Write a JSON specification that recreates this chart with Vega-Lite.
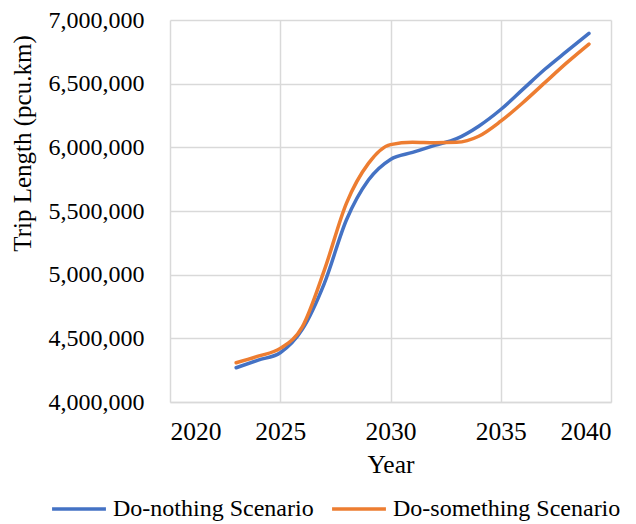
{
  "$schema": "https://vega.github.io/schema/vega-lite/v6.json",
  "width": 441,
  "height": 382,
  "autosize": "none",
  "padding": {"left": 170, "top": 20, "right": 25, "bottom": 122},
  "background": "white",
  "config": {
    "font": "Liberation Serif",
    "view": {"stroke": null}
  },
  "data": {
    "values": [
      {"Year": 2023, "Scenario": "Do-nothing Scenario", "Trip": 4269000},
      {"Year": 2024, "Scenario": "Do-nothing Scenario", "Trip": 4329000},
      {"Year": 2025, "Scenario": "Do-nothing Scenario", "Trip": 4387000},
      {"Year": 2026, "Scenario": "Do-nothing Scenario", "Trip": 4570000},
      {"Year": 2027, "Scenario": "Do-nothing Scenario", "Trip": 4932000},
      {"Year": 2028, "Scenario": "Do-nothing Scenario", "Trip": 5429000},
      {"Year": 2029, "Scenario": "Do-nothing Scenario", "Trip": 5743000},
      {"Year": 2030, "Scenario": "Do-nothing Scenario", "Trip": 5905000},
      {"Year": 2031, "Scenario": "Do-nothing Scenario", "Trip": 5960000},
      {"Year": 2032, "Scenario": "Do-nothing Scenario", "Trip": 6015000},
      {"Year": 2033, "Scenario": "Do-nothing Scenario", "Trip": 6068000},
      {"Year": 2034, "Scenario": "Do-nothing Scenario", "Trip": 6166000},
      {"Year": 2035, "Scenario": "Do-nothing Scenario", "Trip": 6297000},
      {"Year": 2036, "Scenario": "Do-nothing Scenario", "Trip": 6455000},
      {"Year": 2037, "Scenario": "Do-nothing Scenario", "Trip": 6613000},
      {"Year": 2038, "Scenario": "Do-nothing Scenario", "Trip": 6755000},
      {"Year": 2039, "Scenario": "Do-nothing Scenario", "Trip": 6895000},
      {"Year": 2023, "Scenario": "Do-something Scenario", "Trip": 4308000},
      {"Year": 2024, "Scenario": "Do-something Scenario", "Trip": 4360000},
      {"Year": 2025, "Scenario": "Do-something Scenario", "Trip": 4421000},
      {"Year": 2026, "Scenario": "Do-something Scenario", "Trip": 4590000},
      {"Year": 2027, "Scenario": "Do-something Scenario", "Trip": 5036000},
      {"Year": 2028, "Scenario": "Do-something Scenario", "Trip": 5560000},
      {"Year": 2029, "Scenario": "Do-something Scenario", "Trip": 5874000},
      {"Year": 2030, "Scenario": "Do-something Scenario", "Trip": 6021000},
      {"Year": 2031, "Scenario": "Do-something Scenario", "Trip": 6040000},
      {"Year": 2032, "Scenario": "Do-something Scenario", "Trip": 6036000},
      {"Year": 2033, "Scenario": "Do-something Scenario", "Trip": 6039000},
      {"Year": 2034, "Scenario": "Do-something Scenario", "Trip": 6087000},
      {"Year": 2035, "Scenario": "Do-something Scenario", "Trip": 6205000},
      {"Year": 2036, "Scenario": "Do-something Scenario", "Trip": 6350000},
      {"Year": 2037, "Scenario": "Do-something Scenario", "Trip": 6508000},
      {"Year": 2038, "Scenario": "Do-something Scenario", "Trip": 6665000},
      {"Year": 2039, "Scenario": "Do-something Scenario", "Trip": 6811000}
    ]
  },
  "mark": {"type": "line", "interpolate": "monotone", "strokeWidth": 3.5, "strokeCap": "round"},
  "encoding": {
    "x": {
      "field": "Year",
      "type": "quantitative",
      "scale": {"domain": [2020, 2040], "nice": false, "zero": false},
      "axis": {
        "values": [2020, 2025, 2030, 2035, 2040],
        "format": "d",
        "title": "Year",
        "titleFont": "Liberation Serif",
        "titleFontSize": 25.5,
        "titleFontWeight": "normal",
        "titleColor": "#000000",
        "titlePadding": 8,
        "labelFont": "Liberation Serif",
        "labelFontSize": 25.5,
        "labelColor": "#000000",
        "labelPadding": 17,
        "ticks": false,
        "domain": true,
        "domainColor": "#d9d9d9",
        "domainWidth": 1.5,
        "gridColor": "#d9d9d9",
        "gridWidth": 1.5
      }
    },
    "y": {
      "field": "Trip",
      "type": "quantitative",
      "scale": {"domain": [4000000, 7000000], "nice": false, "zero": false},
      "axis": {
        "values": [4000000, 4500000, 5000000, 5500000, 6000000, 6500000, 7000000],
        "format": ",d",
        "title": "Trip Length (pcu.km)",
        "titleFont": "Liberation Serif",
        "titleFontSize": 25,
        "titleFontWeight": "normal",
        "titleColor": "#000000",
        "titleX": -135,
        "titleY": 123,
        "titleAlign": "center",
        "labelFont": "Liberation Serif",
        "labelFontSize": 24,
        "labelColor": "#000000",
        "labelPadding": 26,
        "ticks": false,
        "domain": false,
        "gridColor": "#d9d9d9",
        "gridWidth": 1.5
      }
    },
    "color": {
      "field": "Scenario",
      "type": "nominal",
      "scale": {"domain": ["Do-nothing Scenario", "Do-something Scenario"], "range": ["#4472C4", "#ED7D31"]},
      "legend": {
        "title": null,
        "orient": "none",
        "direction": "horizontal",
        "legendX": -120,
        "legendY": 460,
        "symbolType": "stroke",
        "symbolSize": 2900,
        "symbolStrokeWidth": 3.5,
        "labelFont": "Liberation Serif",
        "labelFontSize": 24,
        "labelColor": "#000000",
        "labelOffset": 5,
        "columnPadding": 11,
        "labelLimit": 400
      }
    }
  }
}
